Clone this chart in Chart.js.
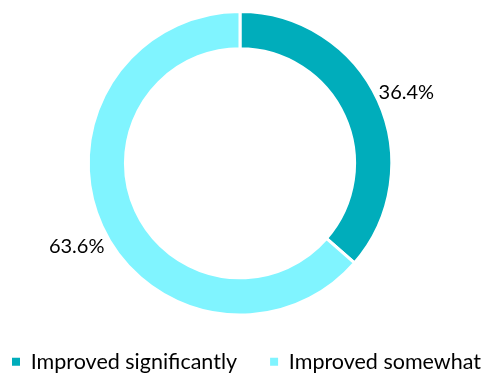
<!DOCTYPE html>
<html>
<head>
<meta charset="utf-8">
<script src="https://cdn.jsdelivr.net/npm/chart.js@4"></script>
<style>
	html, body { margin: 0; padding: 0; background: #fff; }
	#wrap { width: 491px; height: 376px; }
</style>
</head>
<body>
<div id="wrap"><canvas id="chartImproved"></canvas></div>
<script>
const categories = ["Improved significantly", "Improved somewhat"];
const shares = [36.4, 63.6];
const colours = ["#00ADBB", "#80F4FF"];

// percentage labels outside the ring
const outsideLabels = {
	id: 'outsideLabels',
	afterDatasetsDraw(chart) {
		const ctx = chart.ctx;
		const meta = chart.getDatasetMeta(0);
		ctx.save();
		ctx.font = '20px Lato, "DejaVu Sans", sans-serif';
		ctx.fillStyle = '#000';
		ctx.textAlign = 'center';
		ctx.textBaseline = 'middle';
		meta.data.forEach((arc, i) => {
			const p = arc.getProps(['x', 'y', 'startAngle', 'endAngle', 'outerRadius'], true);
			const mid = (p.startAngle + p.endAngle) / 2;
			const r = p.outerRadius + 31;
			const dx = i === 1 ? 3 : 0;
			ctx.fillText(shares[i].toFixed(1) + '%', p.x + Math.cos(mid) * r + dx, p.y + Math.sin(mid) * r + 5 + (i === 1 ? 3 : 0));
		});
		ctx.restore();
	}
};

// keep the legend on one row (the gap between items is wide) and place it
const wideLegend = {
	id: 'wideLegend',
	beforeUpdate(chart) {
		const lg = chart.legend;
		if (!lg || lg._wide) return;
		lg._wide = true;
		const fit = lg.fit;
		lg.fit = function () {
			const mw = this.maxWidth;
			this.maxWidth = 1000;
			fit.call(this);
			this.maxWidth = mw;
			this.width = mw;
		};
	},
	afterLayout(chart) {
		const lg = chart.legend;
		const pad = lg.options.labels.padding;
		const h = lg.height;
		lg.top = 351 - pad;
		lg.bottom = lg.top + h;
		lg.left = 12 - pad;
		lg.right = 1000;
	}
};

new Chart(document.getElementById("chartImproved"), {
	type: 'doughnut',
	data: {
		labels: categories,
		datasets: [{
			data: shares,
			backgroundColor: colours,
			borderColor: "#fff",
			borderWidth: 3
		}]
	},
	options: {
		responsive: true,
		maintainAspectRatio: false,
		animation: false,
		cutout: '75.5%',
		layout: { padding: { top: 10, right: 11, bottom: -5 } },
		plugins: {
			tooltip: { enabled: false },
			legend: {
				position: 'bottom',
				align: 'start',
				labels: {
					boxWidth: 8,
					boxHeight: 8,
					padding: 33,
					color: '#000',
					font: { family: 'Lato, "DejaVu Sans", sans-serif', size: 21.5 },
					generateLabels(chart) {
						return categories.map((c, i) => ({
							text: c,
							fillStyle: colours[i],
							strokeStyle: colours[i],
							lineWidth: 0,
							fontColor: '#000',
							hidden: false,
							index: i
						}));
					}
				}
			}
		}
	},
	plugins: [outsideLabels, wideLegend]
});
</script>
</body>
</html>
